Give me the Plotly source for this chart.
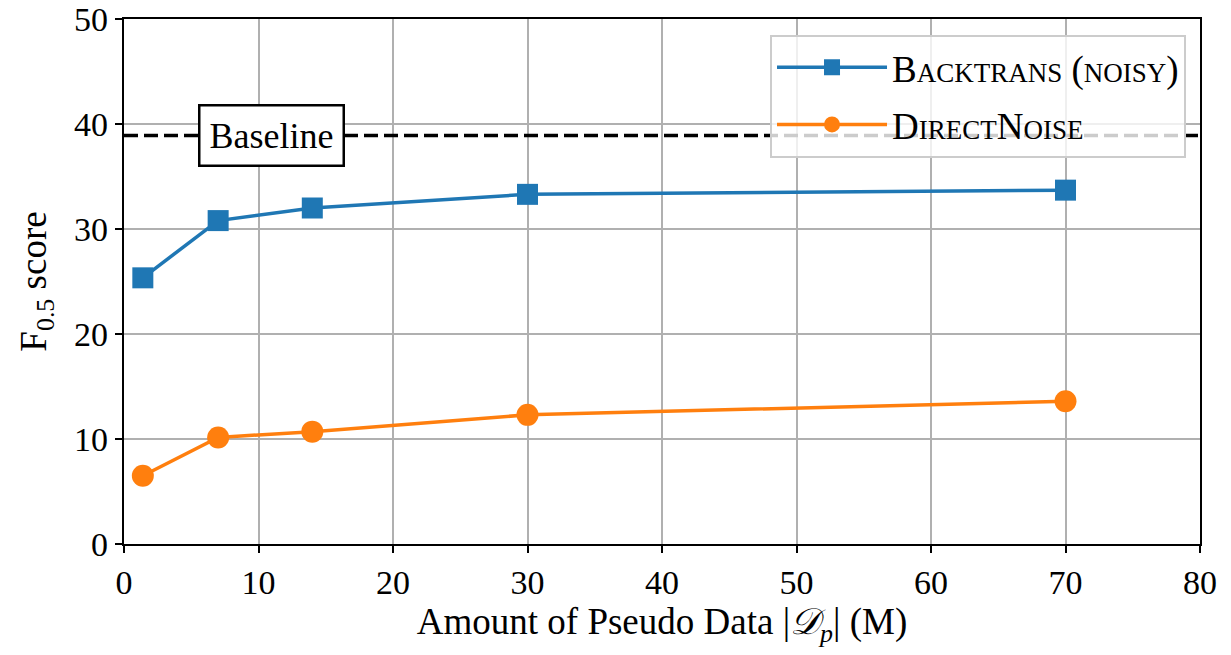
import plotly.graph_objects as go

x_vals = [1.4, 7, 14, 30, 70]
backtrans = [25.35, 30.8, 32.0, 33.3, 33.7]
directnoise = [6.5, 10.15, 10.7, 12.3, 13.6]
baseline = 38.9
x_ticks = [0, 10, 20, 30, 40, 50, 60, 70, 80]
y_ticks = [0, 10, 20, 30, 40, 50]

FONT = "Liberation Serif"
SC = "font-size:27px"

fig = go.Figure()
fig.add_trace(go.Scatter(
    x=[0, 80], y=[baseline, baseline], mode="lines",
    line=dict(color="black", width=3.6, dash="14px,6px"),
    showlegend=False, hoverinfo="skip"))
fig.add_trace(go.Scatter(
    x=x_vals, y=backtrans, mode="lines+markers",
    name=f"B<span style='{SC}'>ACKTRANS</span> (<span style='{SC}'>NOISY</span>)",
    legendgroup="a",
    line=dict(color="#1f77b4", width=3.5),
    marker=dict(symbol="square", size=21, color="#1f77b4")))
fig.add_trace(go.Scatter(
    x=x_vals, y=directnoise, mode="lines+markers",
    name=f"D<span style='{SC}'>IRECT</span>N<span style='{SC}'>OISE</span>",
    legendgroup="b",
    line=dict(color="#ff7f0e", width=3.5),
    marker=dict(symbol="circle", size=22, color="#ff7f0e")))

fig.add_annotation(
    x=11.0, y=baseline, text="Baseline", showarrow=False,
    font=dict(family=FONT, size=36, color="black"),
    bgcolor="white", bordercolor="black", borderwidth=2.5, borderpad=9)

axis_common = dict(
    showline=True, linecolor="black", linewidth=2.4, mirror=True,
    ticks="outside", ticklen=7, tickwidth=2.2, tickcolor="black",
    showgrid=True, gridcolor="#b0b0b0", gridwidth=1.6,
    zeroline=False, tickfont=dict(family=FONT, size=34, color="black"),
)
fig.update_xaxes(range=[0, 80], tickvals=x_ticks, **axis_common,
                 title=dict(text="Amount of Pseudo Data |<i>𝒟</i><sub><i>p</i></sub>| (M)",
                            font=dict(family=FONT, size=37, color="black"), standoff=5))
fig.update_yaxes(range=[0, 50], tickvals=y_ticks, **axis_common,
                 title=dict(text="F<sub>0.5</sub> score",
                            font=dict(family=FONT, size=37, color="black"), standoff=16))

fig.update_layout(
    width=1231, height=655,
    margin=dict(l=124, r=31, t=19, b=111, autoexpand=False),
    plot_bgcolor="white", paper_bgcolor="white",
    font=dict(family=FONT, color="black"),
    legend=dict(x=0.987, y=0.97, xanchor="right", yanchor="top",
                bgcolor="rgba(255,255,255,0.8)", bordercolor="#cccccc", borderwidth=2,
                font=dict(family=FONT, size=37, color="black"),
                traceorder="grouped", tracegroupgap=6,
                itemwidth=110),
)
fig.write_html("out.html", config={"displayModeBar": False},
               post_script="document.body.style.margin='0px';")
